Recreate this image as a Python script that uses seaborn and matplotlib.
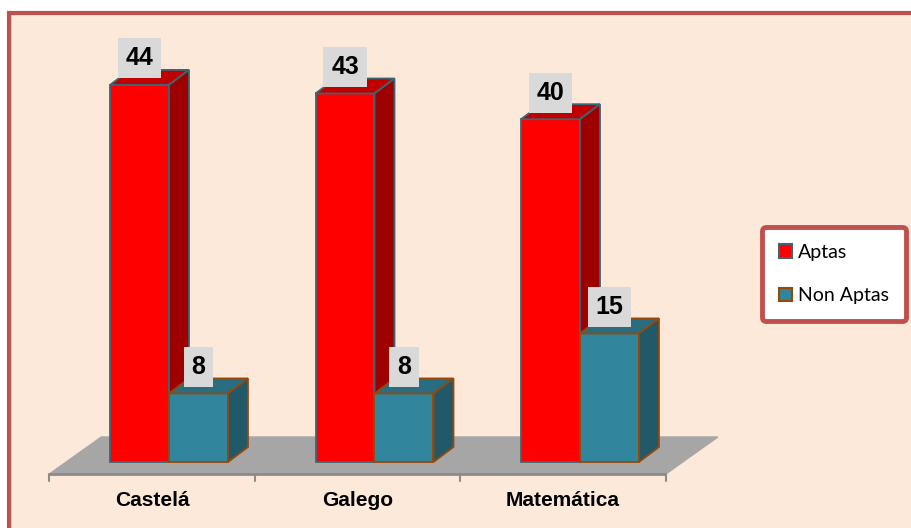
import numpy as np
import pandas as pd
import matplotlib
matplotlib.use('Agg')
import matplotlib.pyplot as plt
import seaborn as sns
from matplotlib.patches import Polygon, Patch, Rectangle

## Data
areas = ['Castelá', 'Galego', 'Matemática']
series = ['Aptas', 'Non Aptas']
aptas = [44, 43, 40]
non_aptas = [8, 8, 15]

## Colours (front, top, side, edge) per series
front_cols = ['#FF0000', '#31859C']
top_cols = ['#C00000', '#296E80']
side_cols = ['#9E0000', '#215968']
edge_cols = ['#3B6676', '#984807']

df = pd.DataFrame({
    'area': areas * 2,
    'valor': aptas + non_aptas,
    'serie': [series[0]] * len(areas) + [series[1]] * len(areas),
})

sns.set_style('white')
plt.rcParams['font.family'] = ['Liberation Sans', 'DejaVu Sans']

W, H = 911, 528
fig = plt.figure(figsize=(W / 100, H / 100), dpi=100)
fig.patch.set_facecolor('white')
# peach panel with red frame (right/bottom edges fall outside the image)
fig.patches.append(Rectangle((8.5 / W, -0.1), 1.2, (H - 13.5) / H + 0.1,
                             transform=fig.transFigure, facecolor='#FDE9D9',
                             edgecolor='#C0504D', linewidth=3, zorder=-10))

# axes geometry: 205.5 px per category, 8.57 px per unit
px_x, px_y = 205.5, 8.57
ax_l, ax_r, ax_t, ax_b = 20, 740, 20, 520
ax = fig.add_axes([ax_l / W, (H - ax_b) / H, (ax_r - ax_l) / W, (ax_b - ax_t) / H])

sns.barplot(data=df, x='area', y='valor', hue='serie', palette=front_cols,
            width=0.574, gap=0, saturation=1, legend=False, ax=ax)

ax.set_xlim((ax_l - 169) / px_x, (ax_r - 169) / px_x)
ax.set_ylim((462 - ax_b) / px_y, (462 - ax_t) / px_y)
ax.set_axis_off()

## Floor
n = len(areas)
shift_x, shift_y = 16.9 / px_x, 12 / px_y
fdx, fdy = 52 / px_x, 37 / px_y
yf = -shift_y
x_left, x_right = -0.5 - shift_x, n - 0.5 - shift_x
floor = Polygon([(x_left, yf), (x_right, yf), (x_right + fdx, yf + fdy), (x_left + fdx, yf + fdy)],
                closed=True, facecolor='#A6A6A6', edgecolor='#A6A6A6', zorder=1)
ax.add_patch(floor)
ax.plot([x_left, x_right], [yf, yf], color='#8C8C8C', lw=2, zorder=1.5, solid_capstyle='butt')
for k in range(n + 1):
    xt = k - 0.5 - shift_x
    ax.plot([xt, xt], [yf, yf - 7 / px_y], color='#8C8C8C', lw=1.5, zorder=1.5)
for k, name in enumerate(areas):
    ax.text(k - shift_x, (462 - 501) / px_y, name, ha='center', va='center',
            fontsize=15, fontweight='bold', color='black')

## 3D faces and value labels
ddx, ddy = 20 / px_x, 15 / px_y
for i, cont in enumerate(ax.containers):
    z = 3 + i
    for bar in cont:
        x0, w, h = bar.get_x(), bar.get_width(), bar.get_height()
        x1 = x0 + w
        bar.set_edgecolor(edge_cols[i])
        bar.set_linewidth(1.3)
        bar.set_zorder(z)
        top = Polygon([(x0, h), (x1, h), (x1 + ddx, h + ddy), (x0 + ddx, h + ddy)],
                      facecolor=top_cols[i], edgecolor=edge_cols[i], lw=1.3, zorder=z)
        side = Polygon([(x1, 0), (x1 + ddx, ddy), (x1 + ddx, h + ddy), (x1, h)],
                       facecolor=side_cols[i], edgecolor=edge_cols[i], lw=1.3, zorder=z)
        ax.add_patch(top)
        ax.add_patch(side)
        ax.annotate(f'{h:.0f}', xy=(x0 + w / 2, h), xytext=(0, 10.5), textcoords='offset points',
                    ha='center', va='bottom', fontsize=18, fontweight='bold', color='black',
                    zorder=6, bbox=dict(boxstyle='square,pad=0.32', fc='#D9D9D9', ec='none'))

## Legend
handles = [Patch(facecolor=front_cols[i], edgecolor=edge_cols[i], linewidth=1.5) for i in range(2)]
leg = fig.legend(handles, series, loc='center left', bbox_to_anchor=(762 / W, 1 - 274 / H),
                 prop={'family': 'Lato', 'size': 14}, labelcolor='black', frameon=True, fancybox=True,
                 facecolor='white', edgecolor='#C0504D', framealpha=1,
                 handlelength=0.7, handleheight=0.7, handletextpad=0.3,
                 labelspacing=1.35, borderpad=0.85, borderaxespad=0)
leg.get_frame().set_linewidth(3.5)

fig.savefig('out.png', dpi=100)
